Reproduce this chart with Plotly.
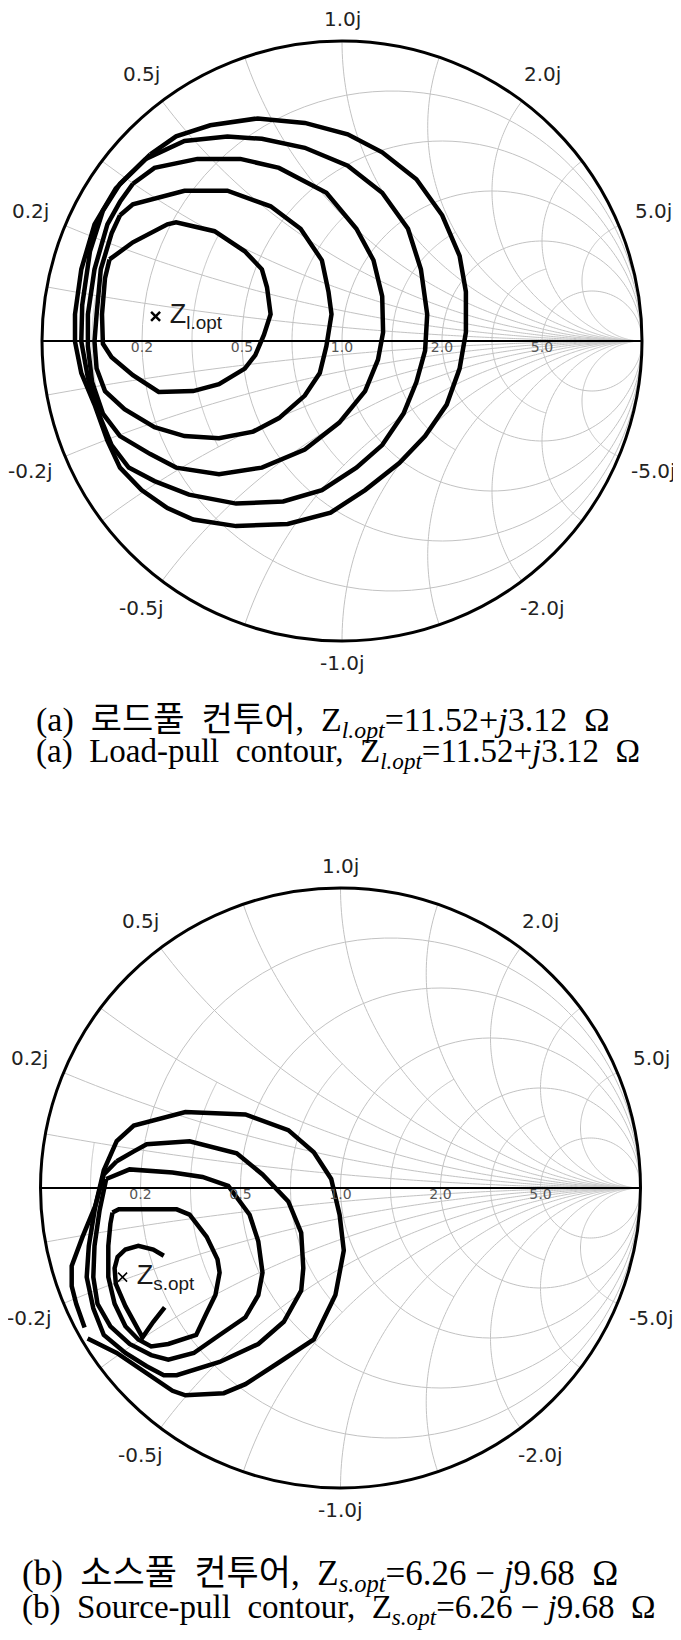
import numpy as np
import plotly.graph_objects as go

# ---------------- data: reflection-coefficient readings (Gamma plane) ----------------
# (a) load-pull contours, innermost -> outermost
load1_re = [-0.775, -0.697, -0.582, -0.553, -0.425, -0.324, -0.267, -0.250, -0.238, -0.260,
            -0.289, -0.324, -0.410, -0.496, -0.611, -0.697, -0.768, -0.797, -0.800, -0.790]
load1_im = [0.272, 0.329, 0.389, 0.396, 0.366, 0.299, 0.239, 0.179, 0.089, 0.021,
            -0.047, -0.092, -0.144, -0.167, -0.170, -0.114, -0.054, -0.009, 0.089, 0.209]

load2_re = [-0.740, -0.697, -0.525, -0.382, -0.238, -0.138, -0.067, -0.045, -0.035, -0.052,
            -0.074, -0.124, -0.210, -0.296, -0.410, -0.525, -0.625, -0.725, -0.790, -0.818,
            -0.825, -0.818, -0.804, -0.768]
load2_im = [0.419, 0.456, 0.501, 0.501, 0.449, 0.374, 0.269, 0.164, 0.089, -0.017,
            -0.107, -0.182, -0.257, -0.302, -0.324, -0.317, -0.287, -0.227, -0.167, -0.092,
            -0.002, 0.089, 0.239, 0.359]

load3_re = [-0.697, -0.625, -0.482, -0.339, -0.210, -0.052, 0.048, 0.105, 0.134, 0.137,
            0.120, 0.077, -0.009, -0.124, -0.267, -0.410, -0.553, -0.639, -0.740, -0.797,
            -0.833, -0.847, -0.847, -0.825, -0.782, -0.740]
load3_im = [0.524, 0.577, 0.607, 0.607, 0.577, 0.494, 0.374, 0.269, 0.149, 0.029,
            -0.062, -0.167, -0.272, -0.362, -0.422, -0.444, -0.422, -0.377, -0.317, -0.242,
            -0.137, -0.017, 0.089, 0.239, 0.389, 0.464]

load4_re = [-0.654, -0.525, -0.382, -0.267, -0.124, 0.019, 0.134, 0.220, 0.263, 0.284,
            0.277, 0.248, 0.205, 0.134, 0.048, -0.067, -0.196, -0.353, -0.510, -0.625,
            -0.711, -0.768, -0.811, -0.847, -0.869, -0.866, -0.840, -0.797, -0.740]
load4_im = [0.607, 0.667, 0.682, 0.674, 0.644, 0.584, 0.494, 0.374, 0.239, 0.089,
            -0.032, -0.137, -0.242, -0.347, -0.422, -0.497, -0.535, -0.542, -0.512, -0.467,
            -0.422, -0.347, -0.242, -0.122, -0.002, 0.119, 0.299, 0.434, 0.524]

load5_re = [-0.639, -0.553, -0.439, -0.281, -0.124, 0.019, 0.134, 0.248, 0.334, 0.392,
            0.413, 0.413, 0.392, 0.349, 0.277, 0.191, 0.077, -0.038, -0.181, -0.353,
            -0.496, -0.582, -0.668, -0.740, -0.782, -0.825, -0.869, -0.890, -0.890, -0.869,
            -0.825, -0.754]
load5_im = [0.622, 0.682, 0.719, 0.742, 0.727, 0.689, 0.629, 0.539, 0.419, 0.284,
            0.164, 0.029, -0.092, -0.212, -0.317, -0.407, -0.497, -0.572, -0.610, -0.617,
            -0.595, -0.557, -0.497, -0.422, -0.332, -0.212, -0.107, -0.002, 0.089, 0.239,
            0.389, 0.509]

# (b) source-pull contours, innermost -> outermost (1 and 5 are open)
src1_re = [-0.589, -0.624, -0.674, -0.717, -0.743, -0.753, -0.749, -0.717, -0.660, -0.624, -0.586]
src1_im = [-0.226, -0.205, -0.193, -0.205, -0.230, -0.267, -0.320, -0.394, -0.498, -0.446, -0.398]

src2_re = [-0.760, -0.739, -0.546, -0.503, -0.446, -0.410, -0.403, -0.417, -0.446, -0.481,
           -0.574, -0.631, -0.674, -0.717, -0.753, -0.774, -0.774, -0.767]
src2_im = [-0.082, -0.071, -0.071, -0.089, -0.163, -0.238, -0.282, -0.357, -0.416, -0.490,
           -0.520, -0.528, -0.505, -0.461, -0.386, -0.297, -0.193, -0.119]

src3_re = [-0.781, -0.703, -0.560, -0.460, -0.374, -0.303, -0.274, -0.260, -0.274, -0.317,
           -0.403, -0.489, -0.574, -0.631, -0.703, -0.767, -0.810, -0.824, -0.820, -0.803]
src3_im = [0.030, 0.062, 0.052, 0.037, 0.007, -0.089, -0.178, -0.282, -0.357, -0.431,
           -0.490, -0.550, -0.572, -0.557, -0.520, -0.461, -0.386, -0.297, -0.193, -0.074]

src4_re = [-0.746, -0.689, -0.646, -0.503, -0.346, -0.260, -0.174, -0.131, -0.124, -0.131,
           -0.189, -0.274, -0.403, -0.546, -0.589, -0.646, -0.717, -0.789, -0.824, -0.846,
           -0.839, -0.817, -0.789]
src4_im = [0.089, 0.122, 0.146, 0.156, 0.116, 0.045, -0.045, -0.149, -0.267, -0.342,
           -0.446, -0.520, -0.580, -0.624, -0.624, -0.594, -0.550, -0.490, -0.401, -0.297,
           -0.193, -0.059, 0.045]

src5_re = [-0.853, -0.881, -0.896, -0.896, -0.860, -0.817, -0.789, -0.746, -0.689, -0.517,
           -0.317, -0.174, -0.089, -0.031, -0.003, 0.011, -0.017, -0.089, -0.203, -0.317,
           -0.389, -0.517, -0.560, -0.746, -0.843]
src5_im = [-0.465, -0.386, -0.327, -0.260, -0.163, -0.059, 0.059, 0.156, 0.208, 0.253,
           0.245, 0.193, 0.119, 0.030, -0.089, -0.208, -0.357, -0.505, -0.580, -0.654,
           -0.684, -0.691, -0.676, -0.550, -0.502]

# optimum impedances (ohm) and reference impedance
Z0 = 50.0
Zl_opt = (11.52, 3.12)
Zs_opt = (6.26, -9.68)

# axis ticks
real_ticks = [0.2, 0.5, 1.0, 2.0, 5.0]
real_tick_text = ["0.2", "0.5", "1.0", "2.0", "5.0"]
imag_ticks = [-5.0, -2.0, -1.0, -0.5, -0.2, 0.2, 0.5, 1.0, 2.0, 5.0]
imag_tick_text = ["-5.0j", "-2.0j", "-1.0j", "-0.5j", "-0.2j", "0.2j", "0.5j", "1.0j", "2.0j", "5.0j"]

# grid values (normalised), major and minor
grid_major = [0.2, 0.5, 1.0, 2.0, 5.0]
grid_minor = [0.0909, 0.3333, 0.7143, 1.4, 3.0]

captions_a = [
    "(a)\u00a0\u00a0로드풀\u00a0\u00a0컨투어,\u00a0\u00a0Z<sub><i>l.opt</i></sub>=11.52+<i>j</i>3.12\u00a0\u00a0Ω",
    "(a)\u00a0\u00a0Load-pull\u00a0\u00a0contour,\u00a0\u00a0Z<sub><i>l.opt</i></sub>=11.52+<i>j</i>3.12\u00a0\u00a0Ω",
]
captions_b = [
    "(b)\u00a0\u00a0소스풀\u00a0\u00a0컨투어,\u00a0\u00a0Z<sub><i>s.opt</i></sub>=6.26\u00a0−\u00a0<i>j</i>9.68\u00a0\u00a0Ω",
    "(b)\u00a0\u00a0Source-pull\u00a0\u00a0contour,\u00a0\u00a0Z<sub><i>s.opt</i></sub>=6.26\u00a0−\u00a0<i>j</i>9.68\u00a0\u00a0Ω",
]


def gamma_to_z(re, im, close=True):
    g = np.array(re) + 1j * np.array(im)
    if close:
        g = np.append(g, g[0])
    z = (1 + g) / (1 - g)
    return z.real, z.imag


def grid_paths():
    """constant-resistance circles and constant-reactance arcs, separated by gaps"""
    rr, ii = [], []
    t = np.linspace(-1.0, 1.0, 241)
    for r in grid_major + grid_minor:
        if r in grid_major:
            xs = np.sinh(t * np.arcsinh(60.0))
        else:
            xs = t * r
        rr += [r] * len(xs) + [None]
        ii += list(xs) + [None]
    s = np.linspace(0, 1, 241)
    rs = np.sinh(s * np.arcsinh(80.0))
    for x in grid_major + grid_minor:
        for sg in (1, -1):
            rr += list(rs) + [None]
            ii += [sg * x] * len(rs) + [None]
    return rr, ii


fig = go.Figure()

grid_r, grid_i = grid_paths()
tick_font = dict(family="DejaVu Sans, Liberation Sans", size=14, color="#555")
for sp in ("smith", "smith2"):
    fig.add_trace(go.Scattersmith(real=grid_r, imag=grid_i, mode="lines",
                                  line=dict(color="#c2c2c2", width=1), connectgaps=False,
                                  subplot=sp, showlegend=False, hoverinfo="skip"))

line_style = dict(color="black", width=4.5)

load_sets = [(load1_re, load1_im), (load2_re, load2_im), (load3_re, load3_im),
             (load4_re, load4_im), (load5_re, load5_im)]
for re, im in load_sets:
    zr, zi = gamma_to_z(re, im, True)
    fig.add_trace(go.Scattersmith(real=zr, imag=zi, mode="lines", line=line_style,
                                  subplot="smith", showlegend=False, hoverinfo="skip"))

src_sets = [(src1_re, src1_im, False), (src2_re, src2_im, True), (src3_re, src3_im, True),
            (src4_re, src4_im, True), (src5_re, src5_im, False)]
for re, im, closed in src_sets:
    zr, zi = gamma_to_z(re, im, closed)
    fig.add_trace(go.Scattersmith(real=zr, imag=zi, mode="lines", line=line_style,
                                  subplot="smith2", showlegend=False, hoverinfo="skip"))

# real-axis tick labels, placed on the real axis through the smith scale
for sp in ("smith", "smith2"):
    fig.add_trace(go.Scattersmith(real=real_ticks, imag=[0] * len(real_ticks),
                                  mode="text", text=real_tick_text, textposition="bottom center",
                                  textfont=tick_font, subplot=sp, showlegend=False,
                                  hoverinfo="skip", cliponaxis=False))

label_font = dict(family="Liberation Sans, Arial", size=27, color="#1a1a1a")
fig.add_trace(go.Scattersmith(real=[Zl_opt[0] / Z0], imag=[Zl_opt[1] / Z0],
                              mode="markers+text", text=["\u00a0Z<sub>l.opt</sub>"],
                              textposition="middle right", textfont=label_font,
                              marker=dict(symbol="x-thin", size=9, line=dict(width=2.5, color="black"),
                                          color="black"),
                              subplot="smith", showlegend=False, hoverinfo="skip"))
fig.add_trace(go.Scattersmith(real=[Zs_opt[0] / Z0], imag=[Zs_opt[1] / Z0],
                              mode="markers+text", text=["\u00a0Z<sub>s.opt</sub>"],
                              textposition="middle right", textfont=label_font,
                              marker=dict(symbol="x-thin", size=9, line=dict(width=1.5, color="black"),
                                          color="black"),
                              subplot="smith2", showlegend=False, hoverinfo="skip"))

W, H = 681, 1640
R = 300
# the page body adds a small offset; compensate so the charts land where the reference has them
DX, DY = -6.5, -6.0
centers = {"smith": (340.5, 339.0), "smith2": (339.0, 1186.0)}


def smith_layout(cx, cy):
    cx += DX
    cy += DY
    return dict(
        domain=dict(x=[(cx - R) / W, (cx + R) / W], y=[(H - cy - R) / H, (H - cy + R) / H]),
        bgcolor="white",
        realaxis=dict(tickvals=real_ticks, showline=True, linecolor="black", linewidth=2,
                      showgrid=False, ticks="", showticklabels=False, layer="above traces"),
        imaginaryaxis=dict(tickvals=imag_ticks, showline=True, linecolor="black", linewidth=3,
                           showgrid=False, ticks="", showticklabels=False),
    )


annotations = []
# imaginary-axis labels around the rim, at the angle where each reactance meets |Gamma|=1
imag_font = dict(family="DejaVu Sans, Liberation Sans", size=20, color="#222")
for sp, (cx, cy) in centers.items():
    for v, txt in zip(imag_ticks, imag_tick_text):
        g = (1j * v - 1) / (1j * v + 1)
        th = np.angle(g)
        d = R + 14 + 22 * abs(np.cos(th)) + 8 * abs(np.sin(th))
        px = cx + d * np.cos(th) + DX
        py = cy - d * np.sin(th) + DY
        annotations.append(dict(text=txt, x=px / W, y=1 - py / H, xref="paper", yref="paper",
                                xanchor="center", yanchor="middle", showarrow=False,
                                font=imag_font))

cap_rows = [
    (captions_a[0], 26, 714, 34),
    (captions_a[1], 26, 746, 33),
    (captions_b[0], 12, 1567, 35),
    (captions_b[1], 12, 1601, 33),
]
for txt, x0, y0, fs in cap_rows:
    annotations.append(dict(text=txt, x=x0 / W, y=1 - y0 / H, xref="paper", yref="paper",
                            xanchor="left", yanchor="middle", align="left", showarrow=False,
                            font=dict(family="Liberation Serif, Times New Roman, Noto Sans CJK KR",
                                      size=fs, color="black")))

fig.update_layout(
    width=W, height=H, autosize=False,
    margin=dict(l=0, r=0, t=0, b=0),
    paper_bgcolor="white", plot_bgcolor="white",
    template="none",
    smith=smith_layout(*centers["smith"]),
    smith2=smith_layout(*centers["smith2"]),
    annotations=annotations,
    showlegend=False,
)

fig.write_html("out.html")
